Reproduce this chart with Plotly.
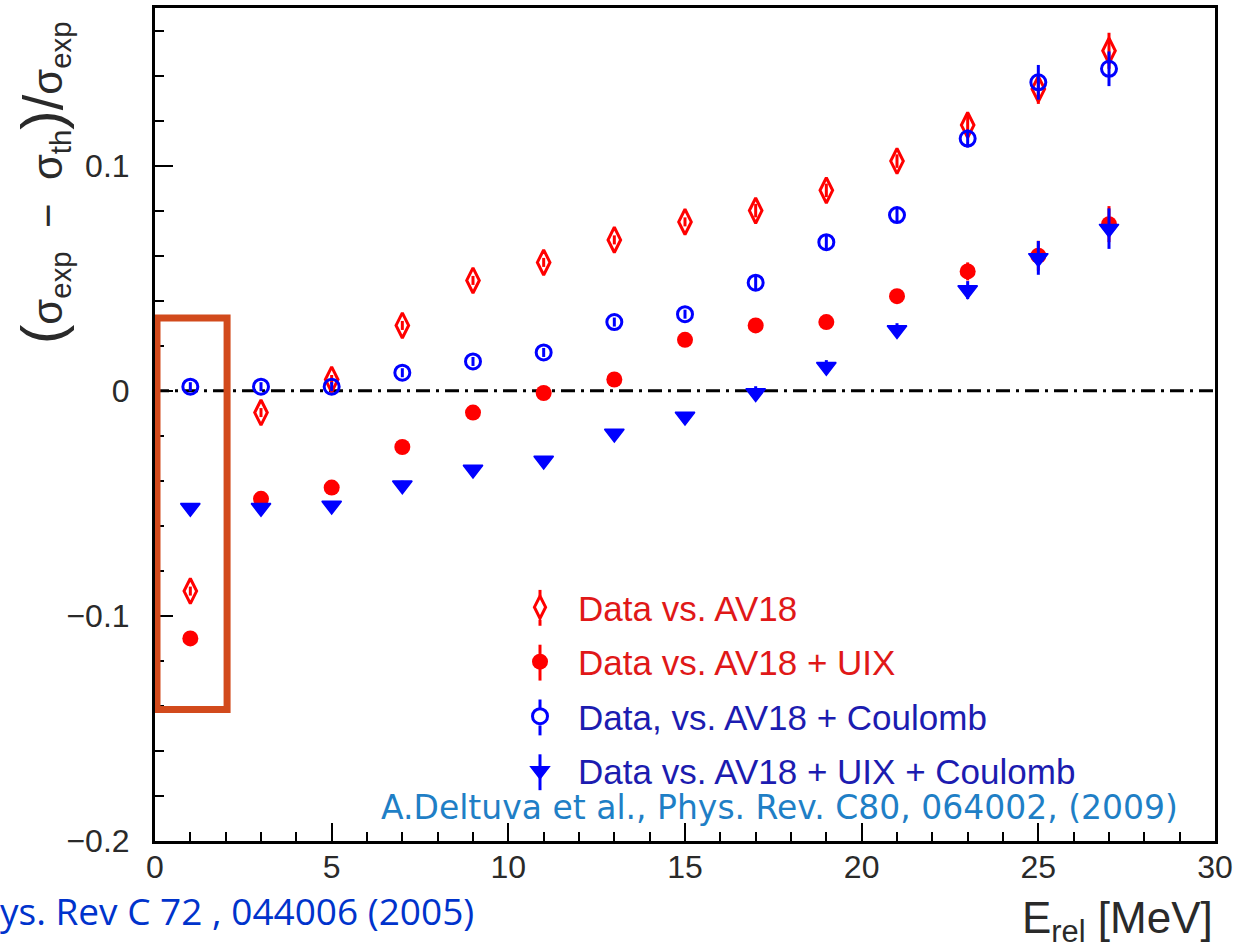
import plotly.graph_objects as go

# ---------------- data ----------------
energy = [1, 3, 5, 7, 9, 11, 13, 15, 17, 19, 21, 23, 25, 27]

av18 = [-0.089, -0.0097, 0.005, 0.029, 0.049, 0.057, 0.067, 0.075, 0.080, 0.089, 0.102, 0.118, 0.134, 0.151]
av18_err = [0.002, 0.002, 0.002, 0.002, 0.002, 0.002, 0.002, 0.002, 0.003, 0.003, 0.003, 0.0045, 0.0066, 0.008]

av18_uix = [-0.110, -0.048, -0.043, -0.025, -0.0097, -0.001, 0.005, 0.0226, 0.029, 0.0305, 0.042, 0.053, 0.060, 0.074]
av18_uix_err = [0.002, 0.002, 0.002, 0.002, 0.002, 0.002, 0.002, 0.002, 0.003, 0.003, 0.003, 0.004, 0.0066, 0.008]

av18_coul = [0.0018, 0.0018, 0.0018, 0.008, 0.013, 0.017, 0.0305, 0.034, 0.048, 0.066, 0.078, 0.112, 0.137, 0.143]
av18_coul_err = [0.002, 0.002, 0.002, 0.002, 0.002, 0.002, 0.002, 0.002, 0.003, 0.003, 0.003, 0.004, 0.0077, 0.0077]

av18_uix_coul = [-0.052, -0.052, -0.051, -0.042, -0.035, -0.031, -0.019, -0.0115, -0.001, 0.0106, 0.027, 0.0447, 0.059, 0.072]
av18_uix_coul_err = [0.002, 0.002, 0.002, 0.002, 0.002, 0.002, 0.002, 0.002, 0.003, 0.003, 0.003, 0.004, 0.0075, 0.009]

series_names = [
    "Data vs. AV18",
    "Data vs. AV18 + UIX",
    "Data, vs. AV18 + Coulomb",
    "Data vs. AV18 + UIX + Coulomb",
]

RED = "#ff0000"
BLUE = "#0000ff"
RED_TXT = "#e01818"
BLUE_TXT = "#1c1cb0"

fig = go.Figure()


def add_series(name, y, err, symbol, color, txtcolor, size, lw, group):
    fig.add_trace(go.Scatter(
        x=energy, y=y, mode="markers",
        name=f"<span style='color:{txtcolor}'>{name}</span>",
        legendgroup=group,
        marker=dict(symbol=symbol, size=size, color=color,
                    line=dict(color=color, width=lw)),
        error_y=dict(type="data", array=err, color=color, thickness=3, width=0),
    ))


add_series(series_names[0], av18, av18_err, "diamond-tall-open", RED, RED_TXT, 18, 3, "g1")
add_series(series_names[1], av18_uix, av18_uix_err, "circle", RED, RED_TXT, 16, 0, "g2")
add_series(series_names[2], av18_coul, av18_coul_err, "circle-open", BLUE, BLUE_TXT, 15, 3, "g3")
add_series(series_names[3], av18_uix_coul, av18_uix_coul_err, "triangle-down", BLUE, BLUE_TXT, 17, 1.5, "g4")

tickfont = dict(family="Liberation Sans", size=32, color="#2a2a2a")

fig.update_xaxes(
    range=[0, 30], tick0=0, dtick=5,
    showline=True, linecolor="black", linewidth=3, mirror=True,
    ticks="inside", ticklen=18, tickwidth=2, tickcolor="black",
    minor=dict(ticks="inside", ticklen=9, dtick=1, tickwidth=2, tickcolor="black"),
    showgrid=False, zeroline=False, tickfont=tickfont, ticklabelstandoff=-4,
)
fig.update_yaxes(
    range=[-0.2, 0.17], tick0=0, dtick=0.1,
    showline=True, linecolor="black", linewidth=3, mirror=True,
    ticks="inside", ticklen=18, tickwidth=2, tickcolor="black",
    minor=dict(ticks="inside", ticklen=9, dtick=0.02, tickwidth=2, tickcolor="black"),
    showgrid=False, zeroline=False, tickfont=tickfont, ticklabelstandoff=16,
)

shapes = [
    # zero reference line
    dict(type="line", xref="x", yref="y", x0=0, x1=30, y0=0, y1=0,
         line=dict(color="black", width=3, dash="14px,6px,3px,6px"), layer="below"),
    # highlight box
    dict(type="rect", xref="x", yref="y", x0=0.057, x1=2.04, y0=-0.1416, y1=0.0323,
         line=dict(color="#d24a1c", width=7), layer="above"),
]

# small vertical bars for legend keys (error-bar style)
PX_L, PX_T, PW, PH = 155, 5, 1060, 836
def px(xp):
    return (xp - PX_L) / PW
def py(yp):
    return (PX_T + PH - yp) / PH

leg_rows = [(607, RED, 12), (662, RED, 0), (717, BLUE, 8), (772, BLUE, 0)]
for yc, col, half in leg_rows:
    segs = [(yc - 18, yc - half), (yc + half, yc + 18)] if half else [(yc - 18, yc + 18)]
    for a, b in segs:
        shapes.append(dict(type="line", xref="paper", yref="paper",
                           x0=px(540), x1=px(540), y0=py(a), y1=py(b),
                           line=dict(color=col, width=3), layer="above"))

fig.update_layout(shapes=shapes)

NB = "\u00a0"
ytitle = (f"<span style='font-size:58px'>(</span>σ<sub>exp</sub>{NB}{NB}−{NB}{NB}σ<sub>th</sub>"
          f"<span style='font-size:58px'>)</span><span style='font-size:56px'>/</span>σ<sub>exp</sub>")

annotations = [
    dict(text=ytitle,
         xref="paper", yref="paper", x=px(43), y=py(17), xanchor="center", yanchor="top",
         textangle=-90, showarrow=False,
         font=dict(family="Liberation Sans", size=42, color="#2a2a2a")),
    dict(text="E<sub>rel</sub> [MeV]", xref="paper", yref="paper",
         x=1.0, y=py(921), xanchor="right", yanchor="middle", showarrow=False,
         font=dict(family="Liberation Sans", size=44, color="#2a2a2a")),
    dict(text="A.Deltuva et al., Phys. Rev. C80, 064002, (2009)", xref="paper", yref="paper",
         x=px(1180), y=py(807), xanchor="right", yanchor="middle", showarrow=False,
         font=dict(family="DejaVu Sans", size=33, color="#1f7fc6")),
    dict(text="ys. Rev C 72 , 044006 (2005)", xref="paper", yref="paper",
         x=px(-2), y=py(911), xanchor="left", yanchor="middle", showarrow=False,
         font=dict(family="Open Sans", size=37, color="#0033cc")),
]

fig.update_layout(
    width=1249, height=949,
    margin=dict(l=155, r=34, t=5, b=108),
    plot_bgcolor="white", paper_bgcolor="white",
    annotations=annotations,
    showlegend=True,
    legend=dict(
        x=px(502), y=py(577), xanchor="left", yanchor="top",
        bgcolor="rgba(0,0,0,0)", borderwidth=0,
        font=dict(family="Liberation Sans", size=35),
        itemwidth=66, traceorder="grouped", tracegroupgap=6,
    ),
)

fig.write_html("out.html", config={"displayModeBar": False},
               post_script="document.body.style.margin='0px';")
